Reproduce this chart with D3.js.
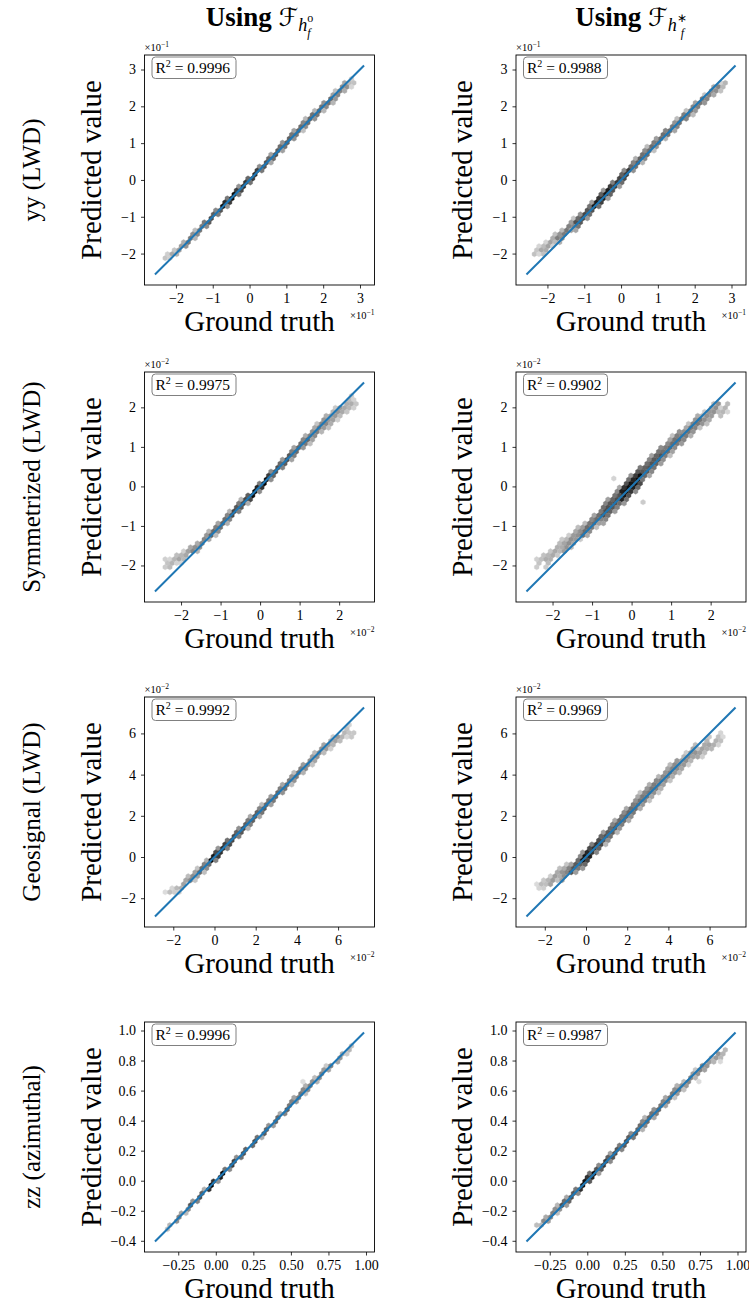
<!DOCTYPE html>
<html>
<head>
<meta charset="utf-8">
<script src="https://cdn.jsdelivr.net/npm/d3@7"></script>
<style>
  body { margin: 0; background: #fff; }
  svg { display: block; }
</style>
</head>
<body>
<svg id="fig" width="749" height="1308"></svg>
<script>
// ---- figure content -------------------------------------------------------
const titleSup = ["o", "\u2217"];
const rowLabels = ["yy (LWD)", "Symmetrized (LWD)", "Geosignal (LWD)", "zz (azimuthal)"];

// identity line end points (ground truth range), in displayed units
const lineMin = [-2.57, -2.66, -2.89, -0.405];
const lineMax = [3.11, 2.63, 7.26, 0.987];
// power of ten shown as the axis multiplier (0 = none)
const scaleExp = [-1, -2, -2, 0];

const xTickVals = [
  [-2, -1, 0, 1, 2, 3],
  [-2, -1, 0, 1, 2],
  [-2, 0, 2, 4, 6],
  [-0.25, 0, 0.25, 0.5, 0.75, 1.0]
];
const yTickVals = [
  [-2, -1, 0, 1, 2, 3],
  [-2, -1, 0, 1, 2],
  [-2, 0, 2, 4, 6],
  [-0.4, -0.2, 0, 0.2, 0.4, 0.6, 0.8, 1.0]
];

const r2Left = [0.9996, 0.9975, 0.9992, 0.9996];
const r2Right = [0.9988, 0.9902, 0.9969, 0.9987];

// hexbin density bands: [ground truth, residual low, residual high, density 0..1]
const bandYYo = [
  [-2.3, 0.0, 0.25, 0.25], [-2.0, -0.08, 0.15, 0.4], [-1.5, -0.12, 0.12, 0.55],
  [-1.0, -0.12, 0.12, 0.72], [-0.5, -0.12, 0.12, 0.97], [0.0, -0.12, 0.12, 0.85],
  [0.5, -0.12, 0.12, 0.72], [1.0, -0.12, 0.15, 0.66], [1.5, -0.12, 0.15, 0.62],
  [2.0, -0.15, 0.12, 0.6], [2.5, -0.2, 0.1, 0.5], [2.85, -0.25, 0.0, 0.3]
];
const bandYYs = [
  [-2.4, 0.2, 0.45, 0.25], [-2.0, 0.05, 0.35, 0.38], [-1.5, -0.05, 0.25, 0.55],
  [-1.0, -0.15, 0.2, 0.75], [-0.5, -0.15, 0.2, 0.92], [0.0, -0.15, 0.2, 0.8],
  [0.5, -0.12, 0.2, 0.65], [1.0, -0.1, 0.2, 0.6], [1.5, -0.15, 0.15, 0.58],
  [2.0, -0.2, 0.12, 0.55], [2.5, -0.25, 0.05, 0.5], [2.85, -0.35, -0.05, 0.3]
];
const bandSymo = [
  [-2.45, 0.3, 0.6, 0.25], [-2.2, 0.15, 0.45, 0.3], [-2.0, 0.05, 0.3, 0.38],
  [-1.5, -0.08, 0.18, 0.5], [-1.0, -0.12, 0.15, 0.62], [-0.5, -0.13, 0.15, 0.75],
  [0.0, -0.12, 0.1, 1.0], [0.5, -0.13, 0.13, 0.72], [1.0, -0.15, 0.15, 0.62],
  [1.5, -0.2, 0.15, 0.52], [1.9, -0.28, 0.1, 0.42], [2.2, -0.35, 0.0, 0.35],
  [2.45, -0.42, -0.15, 0.25]
];
const bandSyms = [
  [-2.45, 0.3, 0.6, 0.25], [-2.0, 0.1, 0.45, 0.35], [-1.5, -0.05, 0.35, 0.45],
  [-1.0, -0.15, 0.25, 0.6], [-0.5, -0.25, 0.3, 0.72], [0.0, -0.25, 0.3, 0.95],
  [0.5, -0.2, 0.3, 0.7], [1.0, -0.2, 0.25, 0.6], [1.5, -0.25, 0.15, 0.55],
  [2.0, -0.35, 0.05, 0.45], [2.45, -0.55, -0.25, 0.3]
];
const bandGeoo = [
  [-2.5, 0.4, 0.7, 0.2], [-2.0, 0.2, 0.55, 0.3], [-1.5, 0.0, 0.4, 0.38],
  [-1.0, -0.2, 0.3, 0.48], [-0.5, -0.25, 0.25, 0.62], [0.0, -0.25, 0.25, 0.97],
  [0.5, -0.25, 0.25, 0.85], [1.0, -0.25, 0.25, 0.75], [2.0, -0.25, 0.25, 0.68],
  [3.0, -0.25, 0.25, 0.62], [4.0, -0.25, 0.25, 0.56], [5.0, -0.3, 0.25, 0.46],
  [5.8, -0.4, 0.1, 0.4], [6.3, -0.6, -0.1, 0.3], [6.8, -0.95, -0.6, 0.22]
];
const bandGeos = [
  [-2.5, 0.7, 1.1, 0.2], [-2.0, 0.5, 1.0, 0.3], [-1.5, 0.2, 0.8, 0.4],
  [-1.0, -0.1, 0.6, 0.5], [-0.5, -0.3, 0.4, 0.7], [0.0, -0.4, 0.4, 0.95],
  [0.5, -0.35, 0.4, 0.82], [1.0, -0.35, 0.4, 0.7], [2.0, -0.35, 0.45, 0.62],
  [3.0, -0.35, 0.5, 0.56], [4.0, -0.4, 0.45, 0.5], [5.0, -0.5, 0.2, 0.45],
  [5.8, -0.8, -0.1, 0.38], [6.3, -1.0, -0.5, 0.32], [6.8, -1.1, -0.8, 0.22]
];
const bandZZo = [
  [-0.34, -0.01, 0.03, 0.3], [-0.25, -0.02, 0.02, 0.5], [-0.1, -0.02, 0.02, 0.72],
  [0.0, -0.02, 0.02, 1.0], [0.1, -0.02, 0.02, 0.8], [0.25, -0.02, 0.02, 0.72],
  [0.4, -0.02, 0.02, 0.65], [0.55, -0.02, 0.04, 0.55], [0.7, -0.02, 0.03, 0.5],
  [0.85, -0.03, 0.01, 0.42], [0.92, -0.03, 0.0, 0.3]
];
const bandZZs = [
  [-0.34, 0.0, 0.05, 0.35], [-0.25, -0.02, 0.04, 0.52], [-0.1, -0.03, 0.03, 0.72],
  [0.0, -0.03, 0.04, 0.95], [0.1, -0.03, 0.03, 0.8], [0.25, -0.03, 0.03, 0.72],
  [0.4, -0.03, 0.04, 0.62], [0.55, -0.03, 0.04, 0.56], [0.7, -0.04, 0.02, 0.5],
  [0.85, -0.06, 0.0, 0.42], [0.92, -0.1, -0.02, 0.3]
];

// isolated cells: [ground truth, predicted, density]
const strayYYo = [];
const strayYYs = [];
const straySymo = [];
const straySyms = [[0.29, -0.4, 0.2], [-0.45, 0.2, 0.15]];
const strayGeoo = [];
const strayGeos = [];
const strayZZo = [[0.58, 0.66, 0.1]];
const strayZZs = [[0.886, 0.793, 0.12], [0.743, 0.66, 0.1]];

const bands = [[bandYYo, bandYYs], [bandSymo, bandSyms], [bandGeoo, bandGeos], [bandZZo, bandZZs]];
const strays = [[strayYYo, strayYYs], [straySymo, straySyms], [strayGeoo, strayGeos], [strayZZo, strayZZs]];
const r2 = [r2Left, r2Right];

// ---- layout ----------------------------------------------------------------
const serif = "'Liberation Serif', 'Times New Roman', serif";
const colLeft = [144.5, 516];
const rowTop = [55, 372, 697, 1022];
const size = 230;
const hexW = 4.6;               // hexagon width in pixels
const hexR = hexW / Math.sqrt(3);
const lineBlue = "#1f77b4";

const svg = d3.select("#fig");
const defs = svg.append("defs");

// column titles
colLeft.forEach((left, c) => {
  const t = svg.append("text")
    .attr("x", left + size / 2).attr("y", 26)
    .attr("text-anchor", "middle")
    .attr("font-family", serif).attr("font-size", 27).attr("fill", "#000");
  t.append("tspan").attr("font-weight", "bold").text("Using ");
  t.append("tspan").attr("font-family", "'DejaVu Serif', 'DejaVu Sans', serif")
    .attr("font-style", "italic").attr("font-size", 25).text("\u2131");
  t.append("tspan").attr("font-style", "italic").attr("font-size", 18).attr("dy", 5).text("h");
  t.append("tspan").attr("font-size", 12).attr("dy", -9).text(titleSup[c]);
  t.append("tspan").attr("font-style", "italic").attr("font-size", 12)
    .attr("dx", -6).attr("dy", 15).text("f");
});

// row labels
rowLabels.forEach((lab, r) => {
  svg.append("text")
    .attr("transform", `translate(40,${rowTop[r] + size / 2}) rotate(-90)`)
    .attr("text-anchor", "middle")
    .attr("font-family", serif).attr("font-size", 25)
    .text(lab);
});

function hexPath(cx, cy, rad) {
  const pts = d3.range(6).map(i => {
    const a = Math.PI / 3 * i + Math.PI / 6;
    return [cx + rad * Math.cos(a), cy + rad * Math.sin(a)];
  });
  return "M" + pts.map(p => p.join(",")).join("L") + "Z";
}

function drawPanel(r, c) {
  const left = colLeft[c], top = rowTop[r];
  const span = lineMax[r] - lineMin[r];
  const dom = [lineMin[r] - 0.05 * span, lineMax[r] + 0.05 * span];
  const x = d3.scaleLinear().domain(dom).range([left, left + size]);
  const y = d3.scaleLinear().domain(dom).range([top + size, top]);
  const pxPerUnit = size / (dom[1] - dom[0]);

  const clipId = `clip-${r}-${c}`;
  defs.append("clipPath").attr("id", clipId)
    .append("rect").attr("x", left).attr("y", top).attr("width", size).attr("height", size);

  const g = svg.append("g").attr("clip-path", `url(#${clipId})`);

  // hexagonal cells covering the density band
  const band = bands[r][c];
  const gtLo = band[0][0], gtHi = band[band.length - 1][0];
  const cells = [];
  const rowStep = 1.5 * hexR;
  let j = 0;
  for (let cy = top; cy <= top + size + rowStep; cy += rowStep, j++) {
    const shift = (j % 2) ? hexW / 2 : 0;
    for (let cx = left + shift; cx <= left + size + hexW; cx += hexW) {
      const gv = x.invert(cx), pv = y.invert(cy);
      if (gv < gtLo || gv > gtHi) continue;
      let k = 0;
      band.forEach((b, i) => { if (Math.abs(b[0] - gv) < Math.abs(band[k][0] - gv)) k = i; });
      const [, lo, hi, dens] = band[k];
      const mid = (lo + hi) / 2;
      const half = Math.max((hi - lo) / 2, 2.6 / pxPerUnit);
      const res = pv - gv;
      const u = Math.abs(res - mid) / half;
      if (u > 1) continue;
      const t = 0.14 + 0.86 * dens * (1 - 0.6 * u * u);
      cells.push({ cx, cy, t });
    }
  }
  strays[r][c].forEach(s => cells.push({ cx: x(s[0]), cy: y(s[1]), t: 0.14 + 0.86 * s[2] }));

  g.selectAll("path.hex").data(cells).join("path")
    .attr("class", "hex")
    .attr("d", d => hexPath(d.cx, d.cy, hexR))
    .attr("fill", d => d3.interpolateGreys(d.t))
    .attr("stroke", d => d3.interpolateGreys(d.t))
    .attr("stroke-width", 0.4);

  // identity line
  g.append("line")
    .attr("x1", x(lineMin[r])).attr("y1", y(lineMin[r]))
    .attr("x2", x(lineMax[r])).attr("y2", y(lineMax[r]))
    .attr("stroke", lineBlue).attr("stroke-width", 2);

  // axes
  const fmtX = r === 3 ? d3.format(".2f") : d3.format("d");
  const fmtY = r === 3 ? d3.format(".1f") : d3.format("d");
  const ax = svg.append("g").attr("transform", `translate(0,${top + size})`)
    .call(d3.axisBottom(x).tickValues(xTickVals[r]).tickFormat(fmtX).tickSize(3.5).tickPadding(5));
  const ay = svg.append("g").attr("transform", `translate(${left},0)`)
    .call(d3.axisLeft(y).tickValues(yTickVals[r]).tickFormat(fmtY).tickSize(3.5).tickPadding(5));
  [ax, ay].forEach(a => {
    a.select(".domain").remove();
    a.selectAll("text").attr("font-family", serif).attr("font-size", 14).attr("fill", "#000");
    a.selectAll("line").attr("stroke", "#000").attr("stroke-width", 0.8);
  });

  // frame
  svg.append("rect").attr("x", left).attr("y", top).attr("width", size).attr("height", size)
    .attr("fill", "none").attr("stroke", "#000").attr("stroke-width", 0.9);

  // multiplier labels
  if (scaleExp[r] !== 0) {
    const addMult = (sel) => {
      sel.append("tspan").text("\u00d710");
      sel.append("tspan").attr("font-size", 7.5).attr("dy", -4).text("\u2212" + Math.abs(scaleExp[r]));
    };
    addMult(svg.append("text").attr("x", left).attr("y", top - 4)
      .attr("font-family", serif).attr("font-size", 10.5));
    addMult(svg.append("text").attr("x", left + size).attr("y", top + size + 34)
      .attr("text-anchor", "end").attr("font-family", serif).attr("font-size", 10.5));
  }

  // axis titles
  svg.append("text").attr("x", left + size / 2).attr("y", top + size + 46)
    .attr("text-anchor", "middle").attr("font-family", serif).attr("font-size", 29)
    .text("Ground truth");
  svg.append("text")
    .attr("transform", `translate(${left - 44},${top + size / 2}) rotate(-90)`)
    .attr("text-anchor", "middle").attr("font-family", serif).attr("font-size", 29)
    .text("Predicted value");

  // R^2 box
  svg.append("rect").attr("x", left + 7.5).attr("y", top + 2).attr("width", 84).attr("height", 21.5)
    .attr("rx", 3.5).attr("fill", "#fff").attr("fill-opacity", 0.8)
    .attr("stroke", "#808080").attr("stroke-width", 1);
  const rt = svg.append("text").attr("x", left + 11).attr("y", top + 18)
    .attr("font-family", serif).attr("font-size", 15.5);
  rt.append("tspan").text("R");
  rt.append("tspan").attr("font-size", 10).attr("dy", -6).text("2");
  rt.append("tspan").attr("dy", 6).text(" = " + d3.format(".4f")(r2[c][r]));
}

for (let r = 0; r < 4; r++) for (let c = 0; c < 2; c++) drawPanel(r, c);
</script>
</body>
</html>
